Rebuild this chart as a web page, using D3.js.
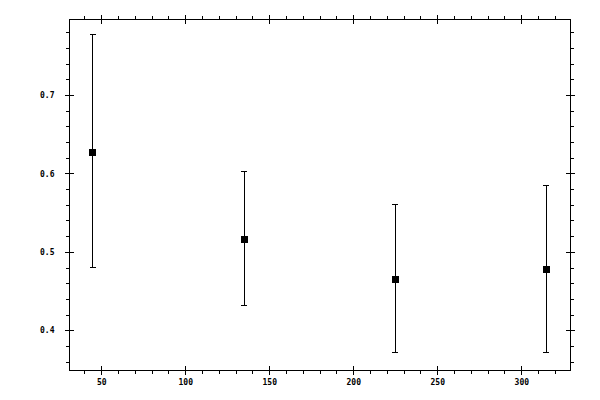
<!DOCTYPE html>
<html>
<head>
<meta charset="utf-8">
<script src="https://cdn.jsdelivr.net/npm/d3@7"></script>
<style>
  html, body { margin: 0; padding: 0; background: #fff; }
  svg { display: block; }
</style>
</head>
<body>
<svg id="chart" width="600" height="400"></svg>
<script>
// ---- data ----
const xValues   = [45, 135, 225, 315];
const yValues   = [0.627, 0.516, 0.465, 0.478];
const yUpper    = [0.777, 0.602, 0.560, 0.584];
const yLower    = [0.480, 0.431, 0.371, 0.372];
const xMajorTicks = [50, 100, 150, 200, 250, 300];
const xMinorTicks = [40, 60, 70, 80, 90, 110, 120, 130, 140, 160, 170, 180, 190, 210, 220, 230, 240, 260, 270, 280, 290, 310, 320];
const yMajorTicks = [0.4, 0.5, 0.6, 0.7];
const yMinorTicks = [0.36, 0.38, 0.42, 0.44, 0.46, 0.48, 0.52, 0.54, 0.56, 0.58, 0.62, 0.64, 0.66, 0.68, 0.72, 0.74, 0.76, 0.78];
const xDomain = [30.8, 329];
const yDomain = [0.3493, 0.797];

(function () {
// ---- layout ----
const pLeft = 69, pRight = 570, pTop = 19, pBottom = 370;
const svg = d3.select("#chart");
const x = d3.scaleLinear().domain(xDomain).range([pLeft, pRight]);
const y = d3.scaleLinear().domain(yDomain).range([pBottom, pTop]);

const g = svg.append("g").attr("shape-rendering", "crispEdges");

// frame
g.append("rect").attr("x", pLeft + 0.5).attr("y", pTop + 0.5)
  .attr("width", pRight - pLeft).attr("height", pBottom - pTop)
  .attr("fill", "none").attr("stroke", "#000").attr("stroke-width", 1);

function styleAxis(sel) {
  sel.select(".domain").remove();
  sel.selectAll("line").attr("stroke", "#000");
}

// bottom axis
g.append("g").attr("transform", `translate(0,${pBottom})`)
  .call(d3.axisBottom(x).tickValues(xMajorTicks).tickSize(4.5).tickPadding(5).tickFormat(d3.format("d")))
  .call(styleAxis);
g.append("g").attr("transform", `translate(0,${pBottom})`)
  .call(d3.axisBottom(x).tickValues(xMinorTicks).tickSize(3.5).tickFormat(""))
  .call(styleAxis);
g.append("g").attr("transform", `translate(0,${pBottom})`)
  .call(d3.axisTop(x).tickValues(xMajorTicks).tickSize(4.5).tickFormat(""))
  .call(styleAxis);

// top axis
g.append("g").attr("transform", `translate(0,${pTop})`)
  .call(d3.axisTop(x).tickValues(xMajorTicks).tickSize(4.5).tickFormat(""))
  .call(styleAxis);
g.append("g").attr("transform", `translate(0,${pTop})`)
  .call(d3.axisTop(x).tickValues(xMinorTicks).tickSize(3.5).tickFormat(""))
  .call(styleAxis);
g.append("g").attr("transform", `translate(0,${pTop})`)
  .call(d3.axisBottom(x).tickValues(xMajorTicks).tickSize(4.5).tickFormat(""))
  .call(styleAxis);

// left axis
g.append("g").attr("transform", `translate(${pLeft},0)`)
  .call(d3.axisLeft(y).tickValues(yMajorTicks).tickSize(4.5).tickPadding(10).tickFormat(d3.format(".1f")))
  .call(styleAxis);
g.append("g").attr("transform", `translate(${pLeft},0)`)
  .call(d3.axisLeft(y).tickValues(yMinorTicks).tickSize(3.5).tickFormat(""))
  .call(styleAxis);
g.append("g").attr("transform", `translate(${pLeft},0)`)
  .call(d3.axisRight(y).tickValues(yMajorTicks).tickSize(4.5).tickFormat(""))
  .call(styleAxis);

// right axis
g.append("g").attr("transform", `translate(${pRight},0)`)
  .call(d3.axisRight(y).tickValues(yMajorTicks).tickSize(4.5).tickFormat(""))
  .call(styleAxis);
g.append("g").attr("transform", `translate(${pRight},0)`)
  .call(d3.axisRight(y).tickValues(yMinorTicks).tickSize(3.5).tickFormat(""))
  .call(styleAxis);
g.append("g").attr("transform", `translate(${pRight},0)`)
  .call(d3.axisLeft(y).tickValues(yMajorTicks).tickSize(4.5).tickFormat(""))
  .call(styleAxis);

svg.selectAll("text")
  .attr("font-family", "DejaVu Sans Mono, Liberation Mono, monospace")
  .attr("font-size", 8).attr("font-weight", "bold").attr("fill", "#000");

// data
const pts = xValues.map((v, i) => ({ x: v, y: yValues[i], hi: yUpper[i], lo: yLower[i] }));
const capHalf = 3, sq = 7;
const eb = g.append("g");
eb.selectAll("line.bar").data(pts).join("line").attr("class", "bar")
  .attr("x1", d => x(d.x)).attr("x2", d => x(d.x))
  .attr("y1", d => y(d.hi)).attr("y2", d => y(d.lo))
  .attr("stroke", "#000");
eb.selectAll("line.capt").data(pts).join("line").attr("class", "capt")
  .attr("x1", d => x(d.x) - capHalf).attr("x2", d => x(d.x) + capHalf)
  .attr("y1", d => y(d.hi)).attr("y2", d => y(d.hi)).attr("stroke", "#000");
eb.selectAll("line.capb").data(pts).join("line").attr("class", "capb")
  .attr("x1", d => x(d.x) - capHalf).attr("x2", d => x(d.x) + capHalf)
  .attr("y1", d => y(d.lo)).attr("y2", d => y(d.lo)).attr("stroke", "#000");
eb.selectAll("rect.pt").data(pts).join("rect").attr("class", "pt")
  .attr("x", d => x(d.x) - sq / 2).attr("y", d => y(d.y) - sq / 2)
  .attr("width", sq).attr("height", sq).attr("fill", "#000");
})();
</script>
</body>
</html>
